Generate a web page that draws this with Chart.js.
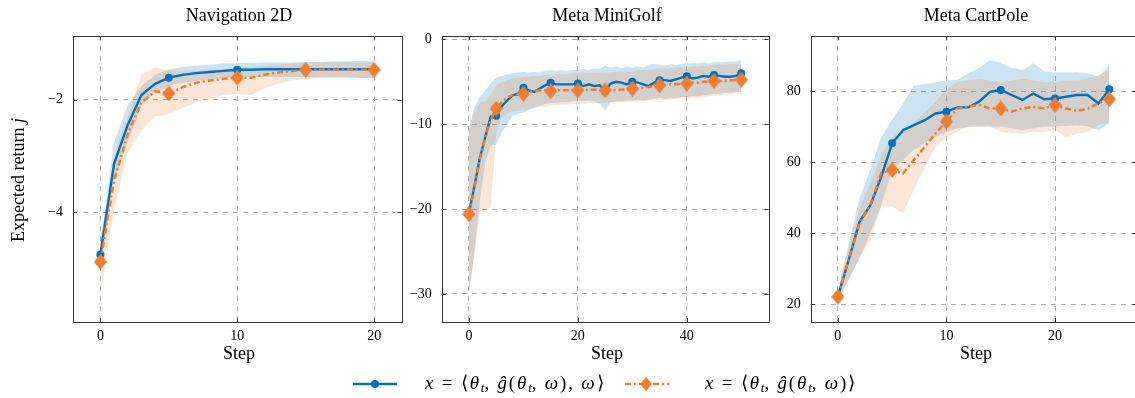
<!DOCTYPE html>
<html><head><meta charset="utf-8">
<script src="https://cdn.jsdelivr.net/npm/chart.js@4.4.1/dist/chart.umd.min.js"></script>
<style>
html,body{margin:0;padding:0;background:#fff;width:1135px;height:398px;overflow:hidden;position:relative;font-family:"Liberation Serif",serif;color:#000}
canvas{position:absolute;top:0}
.t{position:absolute;font-size:18px;line-height:18px;white-space:nowrap;transform:translateX(-50%)}
.yl{position:absolute;font-size:18px;line-height:18px;white-space:nowrap;left:18px;top:180px;transform:translate(-50%,-50%) rotate(-90deg)}
.lg{position:absolute;font-size:19px;line-height:19px;white-space:nowrap;letter-spacing:1.8px}
.lg sub{font-size:13px;vertical-align:-3px;line-height:0;letter-spacing:0}
svg{position:absolute}
</style></head>
<body>
<canvas id="c1" width="410" height="370" style="left:0px"></canvas>
<canvas id="c2" width="382" height="370" style="left:395px"></canvas>
<canvas id="c3" width="370" height="370" style="left:775px"></canvas>

<div class="t" style="left:239px;top:6px">Navigation 2D</div>
<div class="t" style="left:607px;top:6px">Meta MiniGolf</div>
<div class="t" style="left:976px;top:6px">Meta CartPole</div>
<div class="t" style="left:239px;top:344px">Step</div>
<div class="t" style="left:607px;top:344px">Step</div>
<div class="t" style="left:976px;top:344px">Step</div>
<div class="yl">Expected return <i>j</i></div>

<svg style="left:350px;top:376px" width="50" height="16"><line x1="3" y1="8" x2="47" y2="8" stroke="#0072BD" stroke-width="2.4"/><circle cx="25" cy="8" r="4" fill="#0072BD"/></svg>
<div class="lg" style="left:425px;top:373px"><i>x</i> = ⟨<i>θ</i><sub><i>t</i></sub>, <i>ĝ</i>(<i>θ</i><sub><i>t</i></sub>, <i>ω</i>), <i>ω</i>⟩</div>
<svg style="left:622px;top:375px" width="50" height="18"><line x1="3" y1="9" x2="47" y2="9" stroke="#ED7D31" stroke-width="2.5" stroke-dasharray="6,3,2,3"/><polygon points="24,2 30,9 24,16 18,9" fill="#ED7D31"/></svg>
<div class="lg" style="left:705px;top:373px"><i>x</i> = ⟨<i>θ</i><sub><i>t</i></sub>, <i>ĝ</i>(<i>θ</i><sub><i>t</i></sub>, <i>ω</i>)⟩</div>

<script>
// ---------- Navigation 2D (steps 0..20) ----------
const navBlue   = [-4.75,-3.14,-2.45,-1.92,-1.72,-1.61,-1.56,-1.53,-1.51,-1.49,-1.47,-1.47,-1.46,-1.46,-1.46,-1.46,-1.46,-1.46,-1.46,-1.46,-1.46];
const navBlueHi = [-4.6,-2.75,-2.1,-1.76,-1.56,-1.46,-1.42,-1.40,-1.38,-1.36,-1.35,-1.35,-1.34,-1.34,-1.34,-1.33,-1.33,-1.32,-1.32,-1.31,-1.31];
const navBlueLo = [-4.95,-3.45,-2.75,-2.1,-1.88,-1.76,-1.7,-1.67,-1.64,-1.62,-1.6,-1.6,-1.6,-1.6,-1.6,-1.6,-1.6,-1.6,-1.6,-1.61,-1.62];
const navOrange   = [-4.88,-3.44,-2.61,-2.05,-1.85,-1.89,-1.78,-1.70,-1.66,-1.63,-1.61,-1.61,-1.56,-1.52,-1.49,-1.47,-1.47,-1.47,-1.47,-1.47,-1.47];
const navOrangeHi = [-4.5,-3.0,-2.3,-1.55,-1.43,-1.48,-1.5,-1.49,-1.47,-1.46,-1.44,-1.42,-1.4,-1.38,-1.36,-1.35,-1.34,-1.34,-1.34,-1.34,-1.34];
const navOrangeLo = [-5.5,-3.95,-2.95,-2.55,-2.3,-2.26,-2.15,-2.05,-1.98,-1.92,-1.9,-1.92,-1.8,-1.72,-1.66,-1.63,-1.62,-1.62,-1.62,-1.62,-1.62];
const navXTicks = [0,10,20];
const navYTicks = [-4,-2];

// ---------- Meta MiniGolf (steps 0..50) ----------
const golfBlue = [-20.5,-17.3,-14.0,-11.5,-9.1,-9.0,-7.9,-7.2,-6.6,-6.4,
  -5.7,-6.0,-6.2,-5.8,-5.4,-5.1,-5.3,-5.3,-5.3,-5.3,
  -5.2,-5.5,-5.3,-5.5,-5.4,-6.1,-5.2,-5.0,-5.1,-5.3,
  -5.0,-5.1,-5.3,-5.5,-5.1,-4.8,-4.8,-4.9,-4.7,-4.5,
  -4.35,-4.6,-4.5,-4.3,-4.4,-4.2,-4.3,-4.4,-4.4,-4.3,-4.0];
const golfBlueHi = [-10.3,-8.0,-6.8,-6.0,-5.2,-4.5,-4.3,-4.1,-4.0,-3.9,
  -3.85,-3.9,-3.8,-3.9,-3.7,-3.6,-3.7,-3.6,-3.7,-3.6,
  -3.6,-3.5,-3.6,-3.4,-3.5,-3.1,-3.3,-3.2,-3.4,-3.2,
  -3.3,-3.2,-3.3,-3.0,-2.9,-3.0,-3.1,-2.9,-3.0,-2.9,
  -2.9,-2.8,-2.8,-2.7,-2.8,-2.7,-2.7,-2.7,-2.6,-2.6,-2.45];
const golfBlueLo = [-30.0,-25.0,-19.0,-14.5,-12.5,-12.4,-11.0,-10.0,-9.0,-8.8,
  -8.6,-8.3,-8.0,-7.8,-7.6,-7.5,-7.5,-7.4,-7.4,-7.3,
  -7.2,-7.3,-7.2,-7.3,-7.6,-8.4,-7.4,-7.3,-7.3,-7.2,
  -7.2,-7.1,-7.2,-7.1,-7.0,-6.9,-7.0,-6.9,-6.9,-6.8,
  -6.8,-6.7,-6.7,-6.6,-6.5,-6.4,-6.4,-6.3,-6.3,-6.2,-6.2];
const golfOrange = [-20.6,-17.5,-14.2,-11.5,-9.5,-8.15,-7.4,-6.8,-6.6,-6.5,
  -6.4,-6.2,-6.1,-6.0,-6.0,-6.1,-6.0,-6.0,-6.0,-6.0,
  -6.0,-5.9,-6.0,-5.9,-6.0,-6.0,-5.9,-6.0,-5.9,-5.9,
  -5.8,-5.8,-5.7,-5.6,-5.5,-5.4,-5.4,-5.3,-5.3,-5.2,
  -5.2,-5.1,-5.1,-5.0,-5.0,-4.9,-4.9,-4.9,-4.8,-4.8,-4.75];
const golfOrangeHi = [-10.5,-8.6,-7.4,-7.3,-6.5,-5.5,-5.0,-4.8,-4.6,-4.5,
  -4.4,-4.4,-4.3,-4.3,-4.2,-4.2,-4.1,-4.1,-4.1,-4.0,
  -4.0,-4.0,-4.0,-3.9,-3.9,-3.9,-3.9,-3.8,-3.8,-3.8,
  -3.8,-3.7,-3.6,-3.6,-3.5,-3.5,-3.4,-3.4,-3.3,-3.3,
  -3.3,-3.2,-3.2,-3.1,-3.1,-3.0,-3.0,-3.0,-2.9,-2.9,-2.85];
const golfOrangeLo = [-30.0,-25.5,-20.3,-20.1,-19.8,-11.0,-9.2,-8.7,-8.5,-8.4,
  -8.3,-8.2,-8.1,-8.0,-7.9,-7.8,-7.8,-7.7,-7.7,-7.6,
  -7.6,-7.6,-7.5,-7.5,-7.5,-7.5,-7.4,-7.4,-7.4,-7.4,
  -7.4,-7.3,-7.3,-7.2,-7.2,-7.1,-7.1,-7.1,-7.0,-7.0,
  -7.0,-6.9,-6.9,-6.8,-6.7,-6.6,-6.6,-6.5,-6.5,-6.4,-6.4];
const golfXTicks = [0,20,40];
const golfYTicks = [-30,-20,-10,0];

// ---------- Meta CartPole (steps 0..25) ----------
const cartBlue   = [22.1,32.5,43.2,47.9,55.9,65.3,69.0,70.4,71.8,73.7,74.2,75.4,75.4,77.0,79.8,80.3,78.9,77.5,79.3,77.7,77.9,78.4,78.9,78.9,76.5,80.5];
const cartBlueHi = [24,37,50,58,67,72,76.5,81.5,82,82.5,83,83.2,85,86.5,88.7,88,86.5,86,87.8,85.5,85.3,85.2,85.3,85,84,87.3];
const cartBlueLo = [20.5,27,33,40,48,57.8,60.6,63.4,65.3,67.1,68.5,69.5,69.8,70,70,70,69.5,69,69.5,70,70,70.2,70.4,70,69,71];
const cartOrange   = [22.1,32.5,42.8,48.0,56.9,57.8,56.8,60.6,64.3,68.1,71.4,75.1,75.6,76.1,75.1,75.1,74.2,75.1,75.6,75.1,76.1,75.1,74.4,75.0,76.6,77.7];
const cartOrangeHi = [23.5,36,47,54,62,67,69,71,74,77,80.5,82.5,83,83.5,83,82.5,83,83.5,83,82.5,82.5,83,83,83.5,84.5,85.8];
const cartOrangeLo = [21,26.8,33.4,38,47.5,47.5,45.6,52.2,58.7,64.3,67.1,68.5,70,70,70,68.5,68.2,68,68.5,68.5,69,67,68,68.5,70.4,71.3];
const cartXTicks = [0,10,20];
const cartYTicks = [20,40,60,80];

const BLUE = '#0072BD', ORANGE = '#ED7D31';
const BLUE_FILL = 'rgba(0,114,189,0.2)', ORANGE_FILL = 'rgba(237,125,49,0.2)';
const TICK_FONT = {family:'"Liberation Serif", serif', size:14};

// diamond marker image (taller than wide, like pgfplots diamond*)
const dia = document.createElement('canvas');
dia.width = 13; dia.height = 16;
(function(){const c = dia.getContext('2d'); c.fillStyle = ORANGE; c.beginPath();
  c.moveTo(6.5,0); c.lineTo(13,8); c.lineTo(6.5,16); c.lineTo(0,8); c.closePath(); c.fill();})();

const pts = arr => arr.map((v,i)=>({x:i, y:v}));
const fmt = v => v < 0 ? '\u2212' + Math.abs(v) : String(v);

const framePlugin = {
  id:'frame',
  afterDatasetsDraw(chart){
    const {ctx, chartArea:a, scales:{x,y}} = chart;
    ctx.save();
    ctx.strokeStyle = '#333'; ctx.lineWidth = 1;
    ctx.beginPath();
    x.ticks.forEach(t=>{const p = Math.round(x.getPixelForValue(t.value))+0.5;
      ctx.moveTo(p,a.bottom); ctx.lineTo(p,a.bottom-4); ctx.moveTo(p,a.top); ctx.lineTo(p,a.top+4);});
    y.ticks.forEach(t=>{const p = Math.round(y.getPixelForValue(t.value))+0.5;
      ctx.moveTo(a.left,p); ctx.lineTo(a.left+4,p); ctx.moveTo(a.right,p); ctx.lineTo(a.right-4,p);});
    ctx.stroke();
    ctx.strokeRect(Math.round(a.left)+0.5, Math.round(a.top)+0.5, Math.round(a.right-a.left), Math.round(a.bottom-a.top));
    ctx.restore();
  }
};

function makePanel(id, s){
  const datasets = [
    {data:pts(s.bHi), fill:'+1', backgroundColor:BLUE_FILL, borderWidth:0, pointRadius:0, order:4},
    {data:pts(s.bLo), fill:false, borderWidth:0, pointRadius:0, order:4},
    {data:pts(s.oHi), fill:'+1', backgroundColor:ORANGE_FILL, borderWidth:0, pointRadius:0, order:3},
    {data:pts(s.oLo), fill:false, borderWidth:0, pointRadius:0, order:3},
    {data:pts(s.b), borderColor:BLUE, borderWidth:2.4, fill:false, order:2,
     pointStyle:'circle', pointBackgroundColor:BLUE, pointBorderWidth:0,
     pointRadius: c => c.dataIndex % 5 === 0 ? 4 : 0},
    {data:pts(s.o), borderColor:ORANGE, borderWidth:2.5, borderDash:[6,3,2,3], fill:false, order:1,
     pointStyle:dia, pointRadius: c => c.dataIndex % 5 === 0 ? 6 : 0}
  ];
  new Chart(document.getElementById(id), {
    type:'line',
    data:{datasets},
    plugins:[framePlugin],
    options:{
      responsive:false, animation:false, devicePixelRatio:1,
      layout:{padding:{left:0, top:36, right:s.padR, bottom:0}},
      elements:{line:{tension:0}},
      plugins:{legend:{display:false}, tooltip:{enabled:false}},
      scales:{
        x:{type:'linear', min:s.xMin, max:s.xMax,
           afterBuildTicks: sc => { sc.ticks = s.xt.map(v=>({value:v})); },
           afterFit: sc => { sc.height = 48; },
           ticks:{font:TICK_FONT, color:'#000', padding:6, maxRotation:0, autoSkip:false, callback:fmt},
           grid:{color:'#b0b0b0', lineWidth:1, drawTicks:false},
           border:{display:false, dash:[5,5]}},
        y:{type:'linear', min:s.yMin, max:s.yMax,
           afterBuildTicks: sc => { sc.ticks = s.yt.map(v=>({value:v})); },
           afterFit: sc => { sc.width = s.yW; },
           ticks:{font:TICK_FONT, color:'#000', padding:10, autoSkip:false, callback:fmt},
           grid:{color:'#b0b0b0', lineWidth:1, drawTicks:false},
           border:{display:false, dash:[5,5]}}
      }
    }
  });
}

makePanel('c1', {b:navBlue, bHi:navBlueHi, bLo:navBlueLo, o:navOrange, oHi:navOrangeHi, oLo:navOrangeLo,
  xt:navXTicks, yt:navYTicks, xMin:-2, xMax:22, yMin:-5.95, yMax:-0.87, yW:73, padR:5});
makePanel('c2', {b:golfBlue, bHi:golfBlueHi, bLo:golfBlueLo, o:golfOrange, oHi:golfOrangeHi, oLo:golfOrangeLo,
  xt:golfXTicks, yt:golfYTicks, xMin:-5, xMax:55, yMin:-33.3, yMax:0.4, yW:46.7, padR:4.3});
makePanel('c3', {b:cartBlue, bHi:cartBlueHi, bLo:cartBlueLo, o:cartOrange, oHi:cartOrangeHi, oLo:cartOrangeLo,
  xt:cartXTicks, yt:cartYTicks, xMin:-2.5, xMax:27.5, yMin:15, yMax:95.5, yW:35.7, padR:4.2});
</script>
</body></html>
